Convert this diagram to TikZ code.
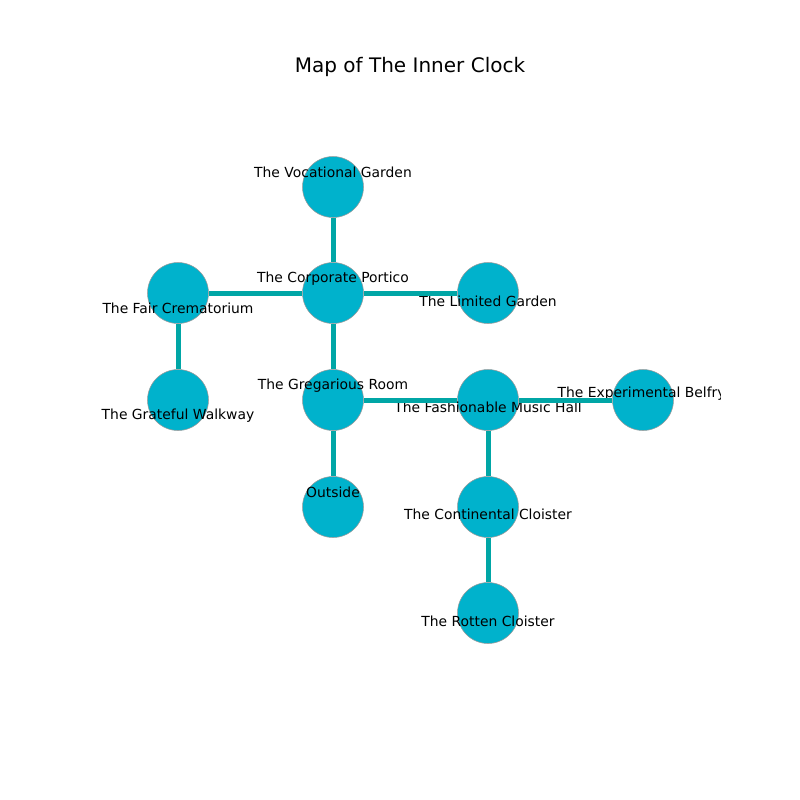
\documentclass[tikz,border=0pt]{standalone}
\usepackage{fontspec}
\setmainfont{DejaVu Sans}
\usepackage{tikz}

\definecolor{roomfill}{HTML}{00B2CC}
\definecolor{passage}{HTML}{00A6A6}

\begin{document}
\begin{tikzpicture}[x=0.72pt, y=-0.72pt,
        room/.style = {circle,
            draw=gray!80,
            line width=0.4pt,
            minimum size = 43.9pt,
            fill=roomfill},
        lbl/.style = {font=\fontsize{10}{12}\selectfont, inner sep=0pt},
        passage/.style = {draw=passage, line width=3.6pt}]

    \useasboundingbox (0,0) rectangle (800,800);

    % Title
    \node[font=\fontsize{14.4}{17}\selectfont] (title) at (410,67) {Map of The Inner Clock};

    \begin{scope}
        \clip (80,96) rectangle (720,704);

        % Rooms with their labels
        \node[room,
            label={[lbl,yshift=10.3pt]center:The Vocational Garden}] (vocational) at (333,187){};
        \node[room,
            label={[lbl,yshift=10.3pt]center:The Corporate Portico}] (portico) at (333,293){};
        \node[room,
            label={[lbl,yshift=-10.7pt]center:The Fair Crematorium}] (crematorium) at (178,293){};
        \node[room,
            label={[lbl,yshift=-5.8pt]center:The Limited Garden}] (limited) at (488,293){};
        \node[room,
            label={[lbl,yshift=-11pt]center:The Grateful Walkway}] (walkway) at (178,400){};
        \node[room,
            label={[lbl,yshift=10.3pt]center:The Gregarious Room}] (gregarious) at (333,400){};
        \node[room,
            label={[lbl,yshift=-5.3pt]center:The Fashionable Music Hall}] (musichall) at (488,400){};
        \node[room,
            label={[lbl,yshift=4.8pt,xshift=-1pt]center:The Experimental Belfry}] (belfry) at (643,400){};
        \node[room,
            label={[lbl,yshift=10.3pt]center:Outside}] (outside) at (333,507){};
        \node[room,
            label={[lbl,yshift=-5.3pt]center:The Continental Cloister}] (continental) at (488,507){};
        \node[room,
            label={[lbl,yshift=-5.8pt]center:The Rotten Cloister}] (rotten) at (488,613){};

        % Passages
        \draw[passage] (vocational) -- (portico);
        \draw[passage] (portico) -- (crematorium);
        \draw[passage] (portico) -- (limited);
        \draw[passage] (portico) -- (gregarious);
        \draw[passage] (crematorium) -- (walkway);
        \draw[passage] (gregarious) -- (musichall);
        \draw[passage] (gregarious) -- (outside);
        \draw[passage] (musichall) -- (belfry);
        \draw[passage] (musichall) -- (continental);
        \draw[passage] (continental) -- (rotten);
    \end{scope}

\end{tikzpicture}
\end{document}
